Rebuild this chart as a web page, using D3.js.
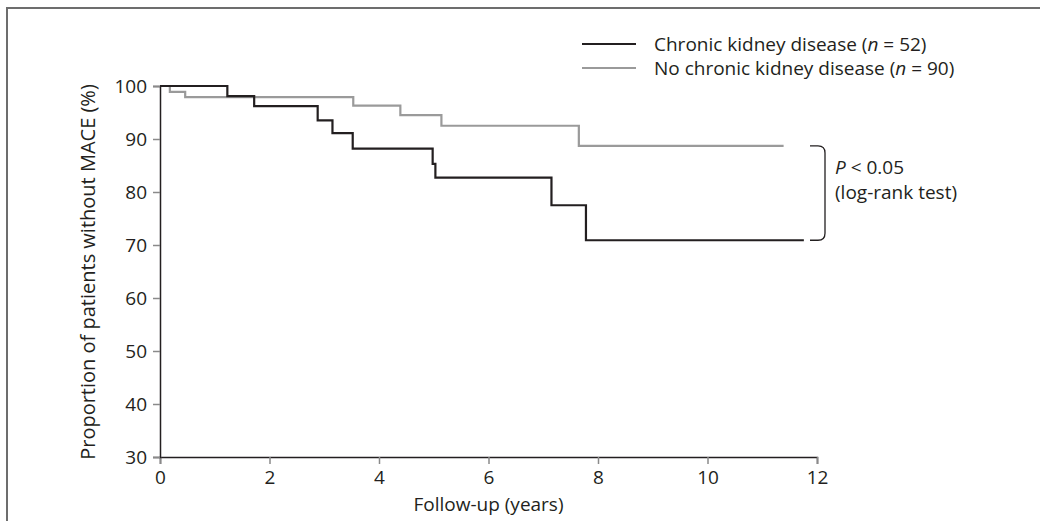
<!DOCTYPE html>
<html>
<head>
<meta charset="utf-8">
<script src="https://cdn.jsdelivr.net/npm/d3@7/dist/d3.min.js"></script>
<style>
  body { margin: 0; background: #fff; }
  svg { display: block; font-family: 'Open Sans', 'Noto Sans', sans-serif; }
</style>
</head>
<body>
<svg id="chart" width="1040" height="521"></svg>
<script>
// ---------- DATA ----------
const ckdTimes = [0, 1.23, 1.72, 2.88, 3.15, 3.52, 4.98, 5.03, 7.15, 7.78, 11.76];
const ckdSurv = [100, 98.1, 96.2, 93.5, 91.1, 88.2, 85.3, 82.7, 77.5, 70.9, 70.9];
const noCkdTimes = [0, 0.18, 0.46, 3.53, 4.39, 5.14, 7.65, 11.39];
const noCkdSurv = [100, 98.9, 97.9, 96.3, 94.5, 92.5, 88.7, 88.7];

const xTicks = [0, 2, 4, 6, 8, 10, 12];
const yTicks = [30, 40, 50, 60, 70, 80, 90, 100];

const seriesNames = ['Chronic kidney disease', 'No chronic kidney disease'];
const seriesN = [52, 90];
const seriesColors = ['#231f20', '#9a9a9a'];

// ---------- LAYOUT ----------
const svg = d3.select('#chart');
const width = +svg.attr('width');
const height = +svg.attr('height');
const margin = { top: 86, right: 223, bottom: 64, left: 160 };
const w = width - margin.left - margin.right;
const h = height - margin.top - margin.bottom;
const ink = '#231f20';

// frame (top + left edges visible)
svg.append('path')
  .attr('d', `M7,${height} V8 H${width}`)
  .attr('fill', 'none')
  .attr('stroke', '#6d6d6d')
  .attr('stroke-width', 2);

const g = svg.append('g').attr('transform', `translate(${margin.left},${margin.top})`);

const x = d3.scaleLinear().domain([0, 12]).range([0, w]);
const y = d3.scaleLinear().domain([30, 100]).range([h, 0]);

// axes
const xAxis = g.append('g')
  .attr('transform', `translate(0,${h})`)
  .call(d3.axisBottom(x).tickValues(xTicks).tickSize(7).tickPadding(7).tickFormat(d3.format('d')));
const yAxis = g.append('g')
  .call(d3.axisLeft(y).tickValues(yTicks).tickSize(7).tickPadding(6).tickFormat(d3.format('d')));

[xAxis, yAxis].forEach((a) => {
  a.select('.domain').attr('stroke', ink).attr('stroke-width', 1.5);
  a.selectAll('.tick line').attr('stroke', '#8a8a8a').attr('stroke-width', 1.5);
  a.selectAll('.tick text')
    .attr('fill', ink)
    .style('font-size', '19px')
    .style('font-family', "'Open Sans', 'Noto Sans', sans-serif");
});

// axis titles
g.append('text')
  .attr('x', w / 2)
  .attr('y', h + 54)
  .attr('text-anchor', 'middle')
  .attr('fill', ink)
  .style('font-size', '19px')
  .text('Follow-up (years)');

g.append('text')
  .attr('transform', `translate(${87 - margin.left},${272 - margin.top}) rotate(-90)`)
  .attr('text-anchor', 'middle')
  .attr('dominant-baseline', 'central')
  .attr('fill', ink)
  .style('font-size', '20px')
  .text('Proportion of patients without MACE (%)');

// ---------- CURVES ----------
const line = d3.line()
  .x((d) => x(d[0]))
  .y((d) => y(d[1]))
  .curve(d3.curveStepAfter);

const series = [
  d3.zip(noCkdTimes, noCkdSurv),
  d3.zip(ckdTimes, ckdSurv),
];
const seriesColorOrder = [seriesColors[1], seriesColors[0]];

g.selectAll('path.km')
  .data(series)
  .join('path')
  .attr('class', 'km')
  .attr('fill', 'none')
  .attr('stroke', (d, i) => seriesColorOrder[i])
  .attr('stroke-width', 2.2)
  .attr('d', line);

// ---------- LEGEND ----------
const legend = svg.append('g').attr('transform', 'translate(582,44)');
seriesNames.forEach((name, i) => {
  const row = legend.append('g').attr('transform', `translate(0,${i * 24})`);
  row.append('line')
    .attr('x1', 0).attr('x2', 54)
    .attr('stroke', seriesColors[i])
    .attr('stroke-width', 2.2);
  const t = row.append('text')
    .attr('x', 72)
    .attr('dominant-baseline', 'central')
    .attr('fill', ink)
    .style('font-size', '19px');
  t.append('tspan').text(name + ' (');
  t.append('tspan').attr('font-style', 'italic').text('n');
  t.append('tspan').text(' = ' + seriesN[i] + ')');
});

// ---------- BRACKET + P VALUE ----------
const bTop = y(noCkdSurv[noCkdSurv.length - 1]);
const bBot = y(ckdSurv[ckdSurv.length - 1]);
const bx0 = x(12) - 7;
const bx1 = x(12) + 8;
const r = 7;
g.append('path')
  .attr('d', `M${bx0},${bTop} H${bx1 - r} Q${bx1},${bTop} ${bx1},${bTop + r}
              V${bBot - r} Q${bx1},${bBot} ${bx1 - r},${bBot} H${bx0}`)
  .attr('fill', 'none')
  .attr('stroke', ink)
  .attr('stroke-width', 1.3);

const pText = g.append('text')
  .attr('x', bx1 + 10)
  .attr('y', 174 - margin.top)
  .attr('fill', ink)
  .style('font-size', '19px');
pText.append('tspan').attr('font-style', 'italic').text('P');
pText.append('tspan').text(' < 0.05');

g.append('text')
  .attr('x', bx1 + 10)
  .attr('y', 199 - margin.top)
  .attr('fill', ink)
  .style('font-size', '19px')
  .text('(log-rank test)');
</script>
</body>
</html>
